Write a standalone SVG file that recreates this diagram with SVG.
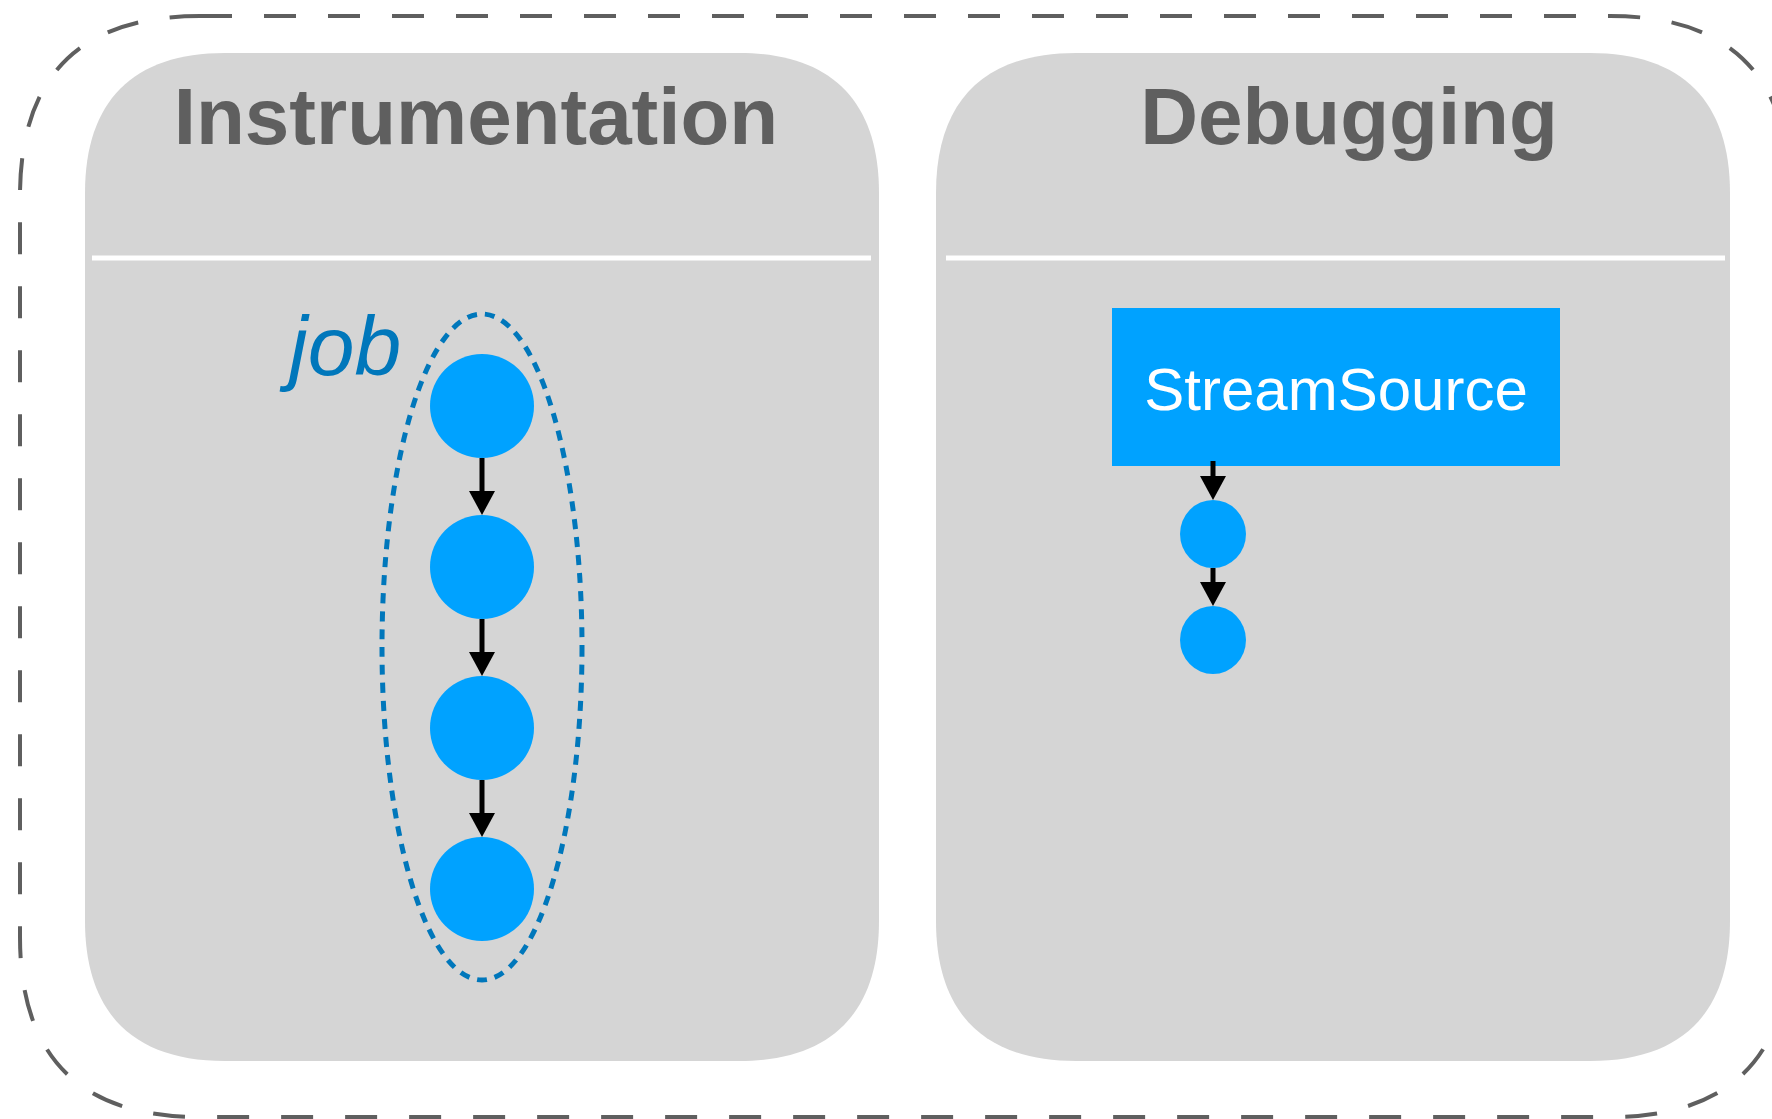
<svg xmlns="http://www.w3.org/2000/svg" width="1772" height="1119" viewBox="0 0 1772 1119">
<style>
.panel{fill:#d5d5d5}
.sep{stroke:#ffffff;stroke-width:5}
.title{font-family:"Liberation Sans",Arial,sans-serif;font-weight:bold;font-size:80px;fill:#5f5f5f;text-anchor:middle}
.node{fill:#00a2ff}
.edge{stroke:#000000;stroke-width:5;fill:none}
</style>
<defs>
<marker id="arrow" markerUnits="userSpaceOnUse" viewBox="0 0 24 26" markerWidth="24" markerHeight="26" refX="14" refY="13" orient="auto">
<path d="M0,0 L24,13 L0,26 Z" fill="#000000"/>
</marker>
</defs>
<path id="outer" d="M 200,16 L 1610,16 C 1730,16 1790,76 1790,196 L 1790,937 C 1790,1057 1730,1117 1610,1117 L 200,1117 C 80,1117 20,1057 20,937 L 20,196 C 20,76 80,16 200,16 Z" fill="none" stroke="#5f5f5f" stroke-width="4" stroke-dasharray="32 32"/>
<g id="instrumentation">
<path class="panel" d="M 225,53 L 739,53 C 831,53 879,101 879,193 L 879,921 C 879,1013 831,1061 739,1061 L 225,1061 C 133,1061 85,1013 85,921 L 85,193 C 85,101 133,53 225,53 Z"/>
<line class="sep" x1="92" y1="258" x2="871" y2="258"/>
<text class="title" x="476" y="144">Instrumentation</text>
</g>
<g id="debugging">
<path class="panel" d="M 1076,53 L 1590,53 C 1682,53 1730,101 1730,193 L 1730,921 C 1730,1013 1682,1061 1590,1061 L 1076,1061 C 984,1061 936,1013 936,921 L 936,193 C 936,101 984,53 1076,53 Z"/>
<line class="sep" x1="946" y1="258" x2="1725" y2="258"/>
<text class="title" x="1349" y="144">Debugging</text>
</g>
<g id="job">
<ellipse cx="482" cy="647" rx="100" ry="333" fill="none" stroke="#0077bb" stroke-width="5" stroke-dasharray="10 8"/>
<text x="289" y="375" font-family="Liberation Sans,Arial,sans-serif" font-style="italic" font-size="84" fill="#0077bb">job</text>
</g>
<g id="job-node-1"><circle class="node" cx="482" cy="406" r="52"/></g>
<g id="job-node-2"><circle class="node" cx="482" cy="567" r="52"/></g>
<g id="job-node-3"><circle class="node" cx="482" cy="728" r="52"/></g>
<g id="job-node-4"><circle class="node" cx="482" cy="889" r="52"/></g>
<g id="streamsource">
<rect class="node" x="1112" y="308" width="448" height="158"/>
<text x="1336" y="410" font-family="Liberation Sans,Arial,sans-serif" font-size="60" fill="#ffffff" text-anchor="middle">StreamSource</text>
</g>
<g id="debug-node-1"><ellipse class="node" cx="1213" cy="534" rx="33" ry="34"/></g>
<g id="debug-node-2"><ellipse class="node" cx="1213" cy="640" rx="33" ry="34"/></g>
<g id="connectors">
<line class="edge" x1="482" y1="458" x2="482" y2="505" marker-end="url(#arrow)"/>
<line class="edge" x1="482" y1="619" x2="482" y2="666" marker-end="url(#arrow)"/>
<line class="edge" x1="482" y1="780" x2="482" y2="827" marker-end="url(#arrow)"/>
<line class="edge" x1="1213" y1="461" x2="1213" y2="490" marker-end="url(#arrow)"/>
<line class="edge" x1="1213" y1="568" x2="1213" y2="596" marker-end="url(#arrow)"/>
</g>
</svg>
